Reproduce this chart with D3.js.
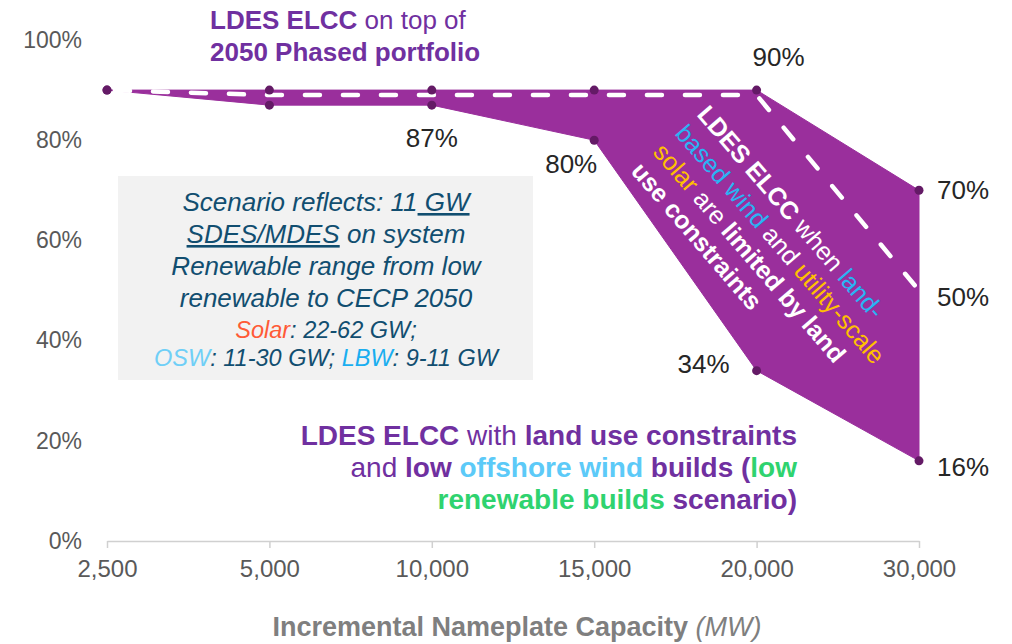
<!DOCTYPE html>
<html>
<head>
<meta charset="utf-8">
<script src="https://cdn.jsdelivr.net/npm/d3@7"></script>
<style>
  body { margin: 0; background: #fff; }
  svg { display: block; font-family: 'Liberation Sans', Arial, sans-serif; }
</style>
</head>
<body>
<svg class="chart"></svg>
<script>
const categories = ['2,500', '5,000', '10,000', '15,000', '20,000', '30,000'];
const phasedPortfolio = [90, 90, 90, 90, 90, 70];
const landUseConstrained = [90, 89, 89, 89, 89, 50];
const lowOffshoreWind = [90, 87, 87, 80, 34, 16];
const yTicks = [0, 20, 40, 60, 80, 100];

const svg = d3.select('.chart')
	.attr('width', 1012)
	.attr('height', 644);

const xScale = d3.scalePoint()
	.domain(categories)
	.range([107, 919]);

const yScale = d3.scaleLinear()
	.domain([0, 100])
	.range([541, 40]);

const rows = categories.map((c, i) => ({
	cat: c,
	top: phasedPortfolio[i],
	dash: landUseConstrained[i],
	low: lowOffshoreWind[i]
}));

// y axis: labels only
const yAxis = d3.axisLeft(yScale)
	.tickValues(yTicks)
	.tickFormat(d => d + '%')
	.tickSize(0)
	.tickPadding(25);
const yAxisG = svg.append('g')
	.attr('transform', 'translate(107,0)')
	.call(yAxis);
yAxisG.select('.domain').remove();
yAxisG.selectAll('text')
	.attr('font-size', 23)
	.attr('font-family', "'Liberation Sans', Arial, sans-serif")
	.attr('fill', '#595959');

// x axis
const xAxis = d3.axisBottom(xScale)
	.tickSize(7)
	.tickSizeOuter(0)
	.tickPadding(12);
const xAxisG = svg.append('g')
	.attr('transform', `translate(0,${yScale(0)})`)
	.call(xAxis);
xAxisG.select('.domain').attr('stroke', '#d0d0d0').attr('stroke-width', 1.5);
xAxisG.selectAll('.tick line').attr('stroke', '#d0d0d0').attr('stroke-width', 1.5);
xAxisG.selectAll('text')
	.attr('font-size', 24)
	.attr('font-family', "'Liberation Sans', Arial, sans-serif")
	.attr('fill', '#595959');

// axis title
const xTitle = svg.append('text')
	.attr('x', 517)
	.attr('y', 636)
	.attr('text-anchor', 'middle')
	.attr('font-size', 27)
	.attr('fill', '#7f7f7f');
xTitle.append('tspan').attr('font-weight', 'bold').text('Incremental Nameplate Capacity ');
xTitle.append('tspan').attr('font-style', 'italic').text('(MW)');

// range area between phased portfolio and low offshore wind case
const area = d3.area()
	.x(d => xScale(d.cat))
	.y0(d => yScale(d.low))
	.y1(d => yScale(d.top));

svg.append('path')
	.attr('d', area(rows))
	.attr('fill', '#9a2f9c')
	.attr('stroke', '#9a2f9c')
	.attr('stroke-width', 1);

// dashed land-use line
const dashLine = d3.line()
	.x(d => xScale(d.cat))
	.y(d => yScale(d.dash));

svg.append('path')
	.attr('d', dashLine(rows))
	.attr('fill', 'none')
	.attr('stroke', '#fff')
	.attr('stroke-width', 4.5)
	.attr('stroke-linecap', 'round')
	.attr('stroke-dasharray', '15,23')
	.attr('stroke-dashoffset', -8);

// dots
const dotColor = '#641a66';
svg.selectAll('circle.top')
	.data(rows)
	.enter().append('circle')
	.attr('class', 'top')
	.attr('cx', d => xScale(d.cat))
	.attr('cy', d => yScale(d.top))
	.attr('r', 4.5)
	.attr('fill', dotColor);
svg.selectAll('circle.low')
	.data(rows)
	.enter().append('circle')
	.attr('class', 'low')
	.attr('cx', d => xScale(d.cat))
	.attr('cy', d => yScale(d.low))
	.attr('r', 4.5)
	.attr('fill', dotColor);

// value labels
const labels = [
	{ v: lowOffshoreWind[2], cat: categories[2], dx: 0, dy: 42, anchor: 'middle' },
	{ v: lowOffshoreWind[3], cat: categories[3], dx: -23, dy: 33, anchor: 'middle' },
	{ v: phasedPortfolio[4], cat: categories[4], dx: 22, dy: -24, anchor: 'middle' },
	{ v: phasedPortfolio[5], cat: categories[5], dx: 18, dy: 9, anchor: 'start' },
	{ v: landUseConstrained[5], cat: categories[5], dx: 18, dy: 15, anchor: 'start' },
	{ v: lowOffshoreWind[4], cat: categories[4], dx: -27, dy: 2, anchor: 'end' },
	{ v: lowOffshoreWind[5], cat: categories[5], dx: 18, dy: 15, anchor: 'start' }
];
svg.selectAll('text.val')
	.data(labels)
	.enter().append('text')
	.attr('class', 'val')
	.attr('x', d => xScale(d.cat) + d.dx)
	.attr('y', d => yScale(d.v) + d.dy)
	.attr('text-anchor', d => d.anchor)
	.attr('font-size', 26)
	.attr('fill', '#262626')
	.text(d => d.v + '%');

// title annotation
const purple = '#7030a0';
const t1 = svg.append('text')
	.attr('x', 210).attr('y', 29)
	.attr('font-size', 26)
	.attr('fill', purple);
t1.append('tspan').attr('font-weight', 'bold').text('LDES ELCC');
t1.append('tspan').text(' on top of');
svg.append('text')
	.attr('x', 210).attr('y', 61)
	.attr('font-size', 26)
	.attr('font-weight', 'bold')
	.attr('fill', purple)
	.text('2050 Phased portfolio');

// scenario box
svg.append('rect')
	.attr('x', 118).attr('y', 176)
	.attr('width', 415).attr('height', 204)
	.attr('fill', '#f2f2f2');

const boxColor = '#114e70';
const boxLines = [
	{ y: 211, size: 26, parts: [['Scenario reflects: 11', boxColor, false], [' GW', boxColor, true]] },
	{ y: 243, size: 26, parts: [['SDES/MDES', boxColor, true], [' on system', boxColor, false]] },
	{ y: 275, size: 26, parts: [['Renewable range from low', boxColor, false]] },
	{ y: 307, size: 26, parts: [['renewable to CECP 2050', boxColor, false]] },
	{ y: 338, size: 23.5, parts: [['Solar', '#ff5a36', false], [': 22-62 GW;', boxColor, false]] },
	{ y: 366, size: 23.5, parts: [['OSW', '#6fcff7', false], [': 11-30 GW; ', boxColor, false], ['LBW', '#1aaef0', false], [': 9-11 GW', boxColor, false]] }
];
boxLines.forEach(l => {
	const t = svg.append('text')
		.attr('x', 326).attr('y', l.y)
		.attr('text-anchor', 'middle')
		.attr('font-style', 'italic')
		.attr('font-size', l.size);
	l.parts.forEach(p => {
		t.append('tspan')
			.attr('fill', p[1])
			.style('text-decoration', p[2] ? 'underline' : null)
			.text(p[0]);
	});
});

// rotated annotation inside the area
const rot = svg.append('g')
	.attr('transform', 'translate(696,115) rotate(49.3)')
	.attr('font-size', 25);
const rotLines = [
	[['LDES ELCC', '#fff', true], [' when ', '#fff', false], ['land-', '#29b4f4', false]],
	[['based wind', '#29b4f4', false], [' and ', '#fff', false], ['utility-scale', '#ffc000', false]],
	[['solar', '#ffc000', false], [' are ', '#fff', false], ['limited by land', '#fff', true]],
	[['use constraints', '#fff', true]]
];
rotLines.forEach((line, i) => {
	const t = rot.append('text').attr('x', 0).attr('y', i * 29);
	line.forEach(p => {
		t.append('tspan')
			.attr('fill', p[1])
			.attr('font-weight', p[2] ? 'bold' : null)
			.text(p[0]);
	});
});

// bottom annotation
const lightBlue = '#5ccaf8', green = '#2fd36f';
const bottomLines = [
	{ y: 445, parts: [['LDES ELCC', purple, true], [' with ', purple, false], ['land use constraints', purple, true]] },
	{ y: 477, parts: [['and ', purple, false], ['low ', purple, true], ['offshore wind', lightBlue, true], [' builds (', purple, true], ['low', green, true]] },
	{ y: 509, parts: [['renewable builds', green, true], [' scenario)', purple, true]] }
];
bottomLines.forEach(l => {
	const t = svg.append('text')
		.attr('x', 797).attr('y', l.y)
		.attr('text-anchor', 'end')
		.attr('font-size', 28);
	l.parts.forEach(p => {
		t.append('tspan')
			.attr('fill', p[1])
			.attr('font-weight', p[2] ? 'bold' : null)
			.text(p[0]);
	});
});
</script>
</body>
</html>
